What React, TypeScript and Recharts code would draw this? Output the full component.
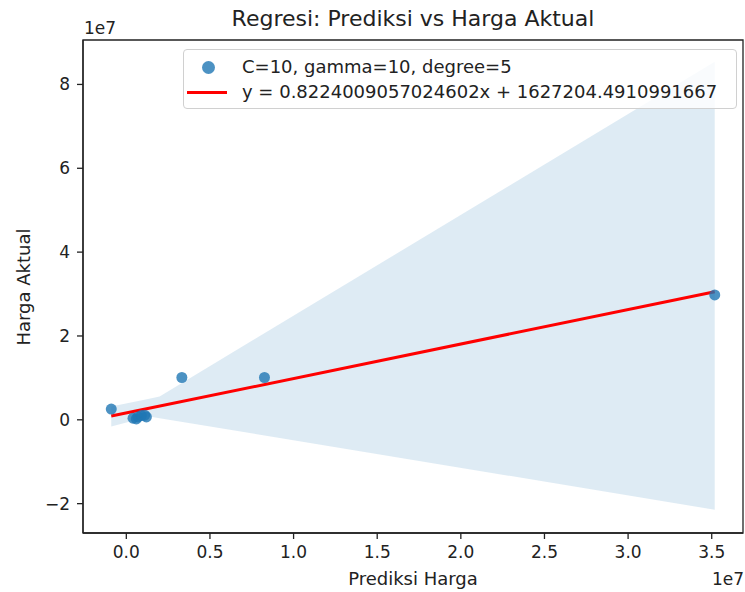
import {
  ComposedChart,
  Area,
  Line,
  Scatter,
  XAxis,
  YAxis,
  ReferenceArea,
} from "recharts";

// ── Data (all values in units of 1e7) ───────────────────────────────────
const pointX = [-0.09, 0.04, 0.06, 0.07, 0.09, 0.11, 0.12, 0.332, 0.826, 3.518];
const pointY = [0.256, 0.04, 0.02, 0.07, 0.1, 0.11, 0.07, 1.009, 1.009, 2.98];

// regression line y = 0.8224009057024602x + 1627204.4910991667 at the ends
const fitX = [-0.09, 3.518];
const fitY = [0.0887, 3.056];

// confidence band edges
const bandX = [-0.09, 0.137, 0.199, 3.518];
const bandLow = [-0.158, 0.08, 0.039, -2.143];
const bandHigh = [0.318, 0.505, 0.557, 8.54];

const xTicks = [0, 0.5, 1, 1.5, 2, 2.5, 3, 3.5];
const yTicks = [-2, 0, 2, 4, 6, 8];

const X_DOMAIN: [number, number] = [-0.259, 3.687];
const Y_DOMAIN: [number, number] = [-2.7, 9.06];

const FONT = "'DejaVu Sans', sans-serif";
const INK = "#222";
const BLUE = "#1f77b4";

const rows = bandX.map((x, i) => {
  const k = fitX.indexOf(x);
  return {
    x,
    band: [bandLow[i], bandHigh[i]],
    fit: k >= 0 ? fitY[k] : null,
  };
});

const points = pointX.map((x, i) => ({ x, y: pointY[i] }));

const tickStyle = { fontSize: 17, fill: INK, fontFamily: FONT };
const fmtY = (v: number) => (v < 0 ? `\u2212${Math.abs(v)}` : `${v}`);

function Dot(props: { cx?: number; cy?: number }) {
  return (
    <circle cx={props.cx} cy={props.cy} r={5.5} fill={BLUE} fillOpacity={0.8} />
  );
}

export default function App() {
  return (
    <div
      style={{
        position: "absolute",
        left: 0,
        top: 0,
        width: 745,
        height: 592,
        background: "#fff",
        fontFamily: FONT,
        color: INK,
      }}
    >
      <ComposedChart
        width={745}
        height={592}
        data={rows}
        margin={{ top: 40, right: 2, bottom: 19, left: 23 }}
      >
        <XAxis
          dataKey="x"
          type="number"
          domain={X_DOMAIN}
          allowDataOverflow
          ticks={xTicks}
          tickFormatter={(v: number) => v.toFixed(1)}
          tick={tickStyle}
          tickSize={6}
          tickMargin={7}
          height={40}
          stroke={INK}
          strokeWidth={1.3}
        />
        <YAxis
          type="number"
          domain={Y_DOMAIN}
          allowDataOverflow
          ticks={yTicks}
          tickFormatter={fmtY}
          tick={tickStyle}
          tickSize={6}
          tickMargin={7}
          width={60}
          stroke={INK}
          strokeWidth={1.3}
        />
        <Scatter
          data={points}
          dataKey="y"
          shape={<Dot />}
          isAnimationActive={false}
        />
        <Area
          dataKey="band"
          type="linear"
          fill={BLUE}
          fillOpacity={0.15}
          stroke="none"
          isAnimationActive={false}
        />
        <Line
          dataKey="fit"
          type="linear"
          stroke="red"
          strokeWidth={3}
          dot={false}
          activeDot={false}
          connectNulls
          isAnimationActive={false}
        />
        {/* axes frame (top and right spines) */}
        <ReferenceArea
          x1={X_DOMAIN[0]}
          x2={X_DOMAIN[1]}
          y1={Y_DOMAIN[0]}
          y2={Y_DOMAIN[1]}
          fill="none"
          stroke={INK}
          strokeWidth={1.3}
          ifOverflow="visible"
        />
      </ComposedChart>

      {/* Title */}
      <div
        style={{
          position: "absolute",
          left: 0,
          width: 826,
          top: 8,
          textAlign: "center",
          fontSize: 22,
          lineHeight: "22px",
        }}
      >
        Regresi: Prediksi vs Harga Aktual
      </div>

      {/* Offset texts */}
      <div
        style={{
          position: "absolute",
          left: 84,
          top: 20,
          fontSize: 17,
          lineHeight: "17px",
        }}
      >
        1e7
      </div>
      <div
        style={{
          position: "absolute",
          right: 1,
          top: 571,
          fontSize: 17,
          lineHeight: "17px",
        }}
      >
        1e7
      </div>

      {/* Axis labels */}
      <div
        style={{
          position: "absolute",
          left: 0,
          width: 826,
          top: 570,
          textAlign: "center",
          fontSize: 18,
          lineHeight: "18px",
        }}
      >
        Prediksi Harga
      </div>
      <div
        style={{
          position: "absolute",
          left: 24,
          top: 287,
          transform: "translate(-50%, -50%) rotate(-90deg)",
          fontSize: 18,
          lineHeight: "18px",
          whiteSpace: "nowrap",
        }}
      >
        Harga Aktual
      </div>

      {/* Legend */}
      <div
        style={{
          position: "absolute",
          left: 183,
          top: 49,
          width: 552,
          height: 58,
          border: "1px solid #d0d0d0",
          borderRadius: 4,
          background: "rgba(255,255,255,0.8)",
          fontSize: 18,
        }}
      >
        <div
          style={{
            position: "absolute",
            left: 18,
            top: 11,
            width: 13,
            height: 13,
            borderRadius: "50%",
            background: BLUE,
            opacity: 0.8,
          }}
        />
        <div
          style={{
            position: "absolute",
            left: 58,
            top: 5,
            lineHeight: "24px",
            whiteSpace: "nowrap",
          }}
        >
          C=10, gamma=10, degree=5
        </div>
        <div
          style={{
            position: "absolute",
            left: 3,
            top: 41,
            width: 40,
            height: 3,
            background: "red",
          }}
        />
        <div
          style={{
            position: "absolute",
            left: 58,
            top: 30,
            lineHeight: "24px",
            whiteSpace: "nowrap",
          }}
        >
          y = 0.8224009057024602x + 1627204.4910991667
        </div>
      </div>
    </div>
  );
}
